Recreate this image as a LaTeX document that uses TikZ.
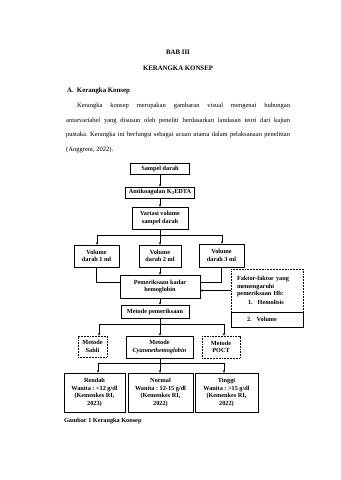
\documentclass[tikz,border=0pt]{standalone}
\usepackage{fontspec}
\setmainfont{Liberation Serif}
\usetikzlibrary{arrows.meta}
\frenchspacing
\newdimen\unitpx
\unitpx=0.6176mm
\tikzset{
  box/.style={draw, line width=1.1pt, align=center, inner sep=1pt,
    font=\fontsize{11}{13}\selectfont\bfseries},
  dotbox/.style={box, dash pattern=on 1.6pt off 1.1pt},
  link/.style={line width=1.1pt},
  arr/.style={link, -{Stealth[length=4.5pt,width=4pt]}},
  head/.style={inner sep=0pt, font=\fontsize{12}{14}\selectfont\bfseries}
}

\begin{document}
\begin{tikzpicture}[x=\unitpx, y=-\unitpx]
\useasboundingbox (0,0) rectangle (340,480);

\node[head] (bab) at (178,52) {BAB III};
\node[head] (judul) at (178,68) {KERANGKA KONSEP};
\node[head, anchor=west] (subjudul) at (67,91) {A.\hspace{2mm}Kerangka Konsep};
\node[anchor=north west, inner sep=0pt, text width=224\unitpx, align=justify,
  font=\fontsize{11.5}{25.7}\selectfont] (paragraf) at (66,103)
  {\hspace*{11\unitpx}Kerangka konsep merupakan gambaran visual mengenai hubungan\linebreak
   antarvariabel yang disusun oleh peneliti berdasarkan landasan teori dari kajian\linebreak
   pustaka. Kerangka ini berfungsi sebagai acuan utama dalam pelaksanaan penelitian\linebreak
   (Anggreni, 2022).};

\node[box, minimum width=59\unitpx, minimum height=11\unitpx] (sampel) at (160,168.5) {Sampel darah};
\node[box, minimum width=69\unitpx, minimum height=11\unitpx] (antikoagulan) at (160,192.5) {Antikoagulan K\textsubscript{2}EDTA};
\node[box, minimum width=56\unitpx, minimum height=22\unitpx] (variasi) at (160,218) {Variasi volume\\sampel darah};

\node[box, minimum width=45\unitpx, minimum height=22\unitpx] (vol1) at (96.5,256) {Volume\\darah 1 ml};
\node[box, minimum width=42\unitpx, minimum height=22\unitpx] (vol2) at (160,256) {Volume\\darah 2 ml};
\node[box, minimum width=45\unitpx, minimum height=23\unitpx] (vol3) at (221.5,255.5) {Volume\\darah 3 ml};

\node[box, minimum width=80\unitpx, minimum height=23\unitpx] (pemeriksaan) at (160,286.5) {Pemeriksaan kadar\\hemoglobin};
\node[dotbox, minimum width=72\unitpx, minimum height=43\unitpx, text width=60\unitpx, align=left] (faktor) at (267,290.5)
  {Faktor-faktor yang\\memengaruhi\\pemeriksaan Hb:\\[2pt]\hspace*{11\unitpx}1.\hspace{5\unitpx}Hemolisis};
\node[box, minimum width=72\unitpx, minimum height=15\unitpx, text width=60\unitpx, align=left] (volumefaktor) at (267,319.5)
  {\hspace*{10\unitpx}2.\hspace{5\unitpx}Volume};

\node[box, minimum width=68\unitpx, minimum height=13\unitpx] (metode) at (155,311.5) {Metode pemeriksaan};
\node[dotbox, minimum width=29\unitpx, minimum height=21\unitpx] (sahli) at (92.5,346.5) {Metode\\Sahli};
\node[box, minimum width=67\unitpx, minimum height=22\unitpx] (cyan) at (159.5,347) {Metode\\\textit{Cyanmethemoglobin}};
\node[dotbox, minimum width=38\unitpx, minimum height=22\unitpx] (poct) at (221,347) {Metode\\POCT};

\node[box, minimum width=61\unitpx, minimum height=39\unitpx] (rendah) at (94.5,392.5) {Rendah\\Wanita : <12 g/dl\\(Kemenkes RI,\\2023)};
\node[box, minimum width=65\unitpx, minimum height=39\unitpx] (normal) at (160.5,392.5) {Normal\\Wanita : 12-15 g/dl\\(Kemenkes RI,\\2022)};
\node[box, minimum width=63\unitpx, minimum height=39\unitpx] (tinggi) at (226.5,392.5) {Tinggi\\Wanita : >15 g/dl\\(Kemenkes RI,\\2022)};

\node[head, anchor=west, font=\fontsize{11}{13}\selectfont\bfseries] (gambar) at (64,421) {Gambar 1 Kerangka Konsep};

\coordinate (a1) at (97,235);
\coordinate (a2) at (160,235);
\coordinate (a3) at (222,235);
\coordinate (b1) at (99,324);
\coordinate (b2) at (160,324);
\coordinate (b3) at (224,324);
\coordinate (c1) at (98,363);
\coordinate (c2) at (160,363);
\coordinate (c3) at (224,363);

\draw[arr] (sampel) -- (antikoagulan);
\draw[arr] (antikoagulan) -- (variasi);
\draw[link] (variasi.south) -- (a2);
\draw[link] (a1) -- (a3);
\draw[arr] (a1) -- (a1 |- vol1.north);
\draw[arr] (a2) -- (vol2.north);
\draw[arr] (a3) -- (a3 |- vol3.north);

\draw[link] (vol1.south) |- ([yshift=2.8mm]pemeriksaan.west);
\draw[arr] (vol2) -- (pemeriksaan);
\draw[link] (vol3.south) |- ([yshift=2.8mm]pemeriksaan.east);
\draw[arr] (faktor.west) -- (faktor.west -| pemeriksaan.east);

\draw[arr] (pemeriksaan.south) -- (pemeriksaan.south |- metode.north);
\draw[link] (pemeriksaan.south |- metode.south) -- (b2);
\draw[link] (b1) -- (b3);
\draw[arr] (b1) -- (b1 |- sahli.north);
\draw[arr] (b2) -- (b2 |- cyan.north);
\draw[arr] (b3) -- (b3 |- poct.north);

\draw[link] (cyan.south -| c2) -- (c2);
\draw[link] (c1) -- (c3);
\draw[arr] (c1) -- (c1 |- rendah.north);
\draw[arr] (c2) -- (c2 |- normal.north);
\draw[arr] (c3) -- (c3 |- tinggi.north);
\end{tikzpicture}
\end{document}
